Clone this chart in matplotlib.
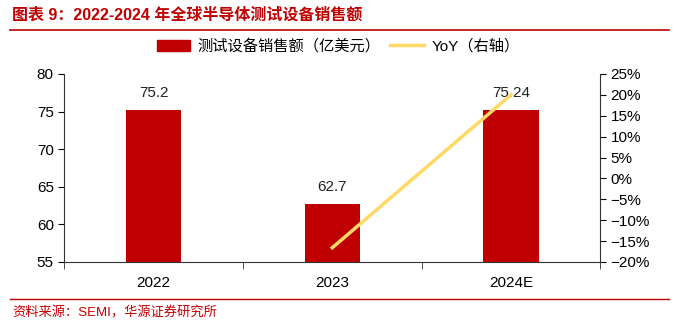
import matplotlib
matplotlib.use("Agg")
import matplotlib.pyplot as plt
from matplotlib.ticker import FuncFormatter, MultipleLocator
from matplotlib.lines import Line2D

plt.rcParams['font.family'] = ['Liberation Sans', 'Noto Sans CJK SC', 'DejaVu Sans']
plt.rcParams['axes.unicode_minus'] = True

categories = ['2022', '2023', '2024E']
sales = [75.2, 62.7, 75.24]
yoy_cats = ['2023', '2024E']
yoy = [-16.6, 20.0]

bar_color = '#C00000'
line_color = '#FFD966'
title_color = '#C00000'

fig = plt.figure(figsize=(6.76, 3.23), dpi=100)
ax = fig.add_axes([0.095, 0.189, 0.793, 0.582])
x = list(range(len(categories)))
ax.bar(x, sales, width=0.31, color=bar_color, zorder=2)
for xi, v in zip(x, sales):
    ax.text(xi, v + 1.3, f'{v:g}', ha='center', va='bottom', fontsize=11, color='#222222')
ax.set_xlim(-0.5, 2.5)
ax.set_ylim(55, 80)
ax.yaxis.set_major_locator(MultipleLocator(5))
ax.set_xticks(x)
ax.set_xticklabels(categories, fontsize=11)
ax.set_xticks([-0.5, 0.5, 1.5, 2.5], minor=True)
ax.tick_params(axis='x', which='major', length=0, pad=10)
ax.tick_params(axis='x', which='minor', length=5, direction='out', color='#333333')
ax.tick_params(axis='y', direction='out', length=4, labelsize=11)
for s in ['top', 'right']:
    ax.spines[s].set_visible(False)
ax.spines['left'].set_color('#333333')
ax.spines['bottom'].set_color('#333333')

ax2 = ax.twinx()
xi_yoy = [categories.index(c) for c in yoy_cats]
ax2.plot(xi_yoy, yoy, color=line_color, linewidth=2.5, zorder=3)
ax2.set_ylim(-20, 25)
ax2.yaxis.set_major_locator(MultipleLocator(5))
ax2.yaxis.set_major_formatter(FuncFormatter(lambda v, p: f'{int(round(v))}%'.replace('-', '\u2212')))
ax2.tick_params(axis='y', direction='out', length=4, labelsize=11)
for s in ['top', 'left', 'bottom']:
    ax2.spines[s].set_visible(False)
ax2.spines['right'].set_color('#333333')

handles = [plt.Rectangle((0, 0), 1, 1, color=bar_color),
           Line2D([0], [0], color=line_color, linewidth=2.5)]
labels = ['测试设备销售额（亿美元）', 'YoY（右轴）']
fig.legend(handles, labels, loc='center', bbox_to_anchor=(0.5, 0.857), ncol=2,
           frameon=False, fontsize=11, handlelength=2.2, columnspacing=0.6, handletextpad=0.5)

fig.text(0.018, 0.955, '图表 9：2022-2024 年全球半导体测试设备销售额', color=title_color,
         fontsize=11.5, fontweight='bold', va='center', ha='left')
fig.add_artist(Line2D([0.015, 0.99], [0.908, 0.908], color=title_color, linewidth=1.2))
fig.add_artist(Line2D([0.015, 0.99], [0.074, 0.074], color=title_color, linewidth=1.0))
fig.text(0.018, 0.03, '资料来源：SEMI，华源证券研究所', color=title_color, fontsize=9.5,
         va='center', ha='left')

fig.savefig('out.png', dpi=100)
